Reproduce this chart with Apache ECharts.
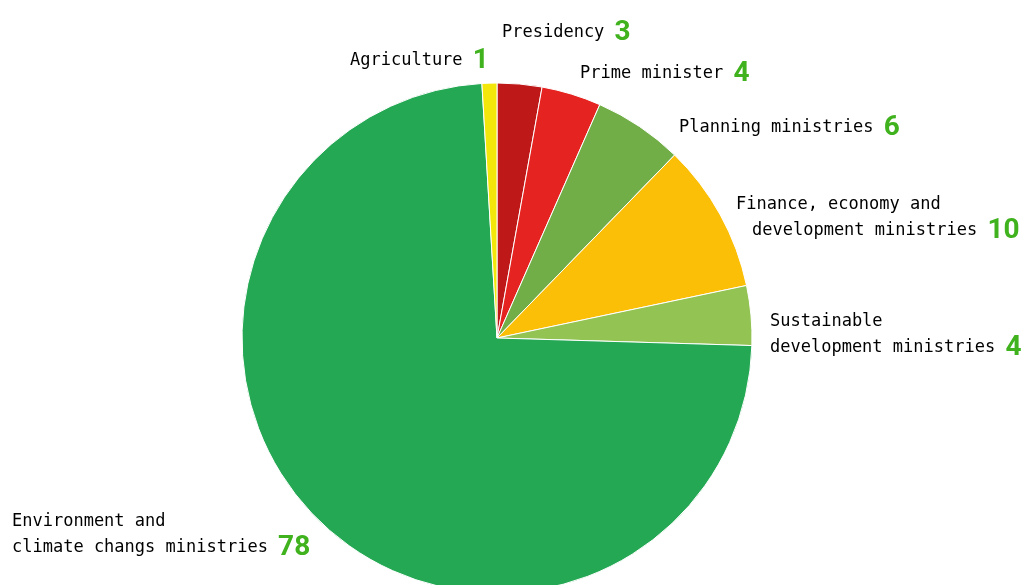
<!DOCTYPE html>
<html>
<head>
<meta charset="utf-8">
<script src="https://cdn.jsdelivr.net/npm/echarts@6/dist/echarts.min.js"></script>
<style>
  html, body { margin: 0; padding: 0; background: #fff; }
  #chart { width: 1022px; height: 585px; }
</style>
</head>
<body>
<div id="chart"></div>
<script>
// clockwise from 12 o'clock
const categories = [
  "Presidency",
  "Prime minister",
  "Planning ministries",
  "Finance, economy and\ndevelopment ministries",
  "Sustainable\ndevelopment ministries",
  "Environment and\nclimate changs ministries",
  "Agriculture"
];
const counts = [3, 4, 6, 10, 4, 78, 1];
const sliceColors = ["#be1818", "#e52421", "#72ae48", "#fcbf07", "#92c353", "#24a853", "#f3e60a"];

// where each label sits (left edge, vertical middle)
const labelSpots = {
  "Presidency": [502, 33],
  "Prime minister": [580, 74],
  "Planning ministries": [679, 128],
  "Finance, economy and\ndevelopment ministries": [736, 218],
  "Sustainable\ndevelopment ministries": [770, 335],
  "Environment and\nclimate changs ministries": [12, 535],
  "Agriculture": [350, 61]
};

const chart = echarts.init(document.getElementById("chart"));
chart.setOption({
  animation: false,
  series: [{
    type: "pie",
    center: [497, 338],
    radius: 255,
    startAngle: 90,
    clockwise: true,
    avoidLabelOverlap: false,
    itemStyle: { borderColor: "#fff", borderWidth: 1 },
    labelLine: { show: false },
    label: {
      show: true,
      position: "outside",
      formatter: function (p) {
        const lines = p.name.split("\n");
        let out = [];
        lines.forEach(function (l, i) {
          let s = "{t|" + l + "}";
          if (i === 1 && p.name.indexOf("Finance") === 0) s = "{i|}" + s;
          if (i === lines.length - 1) s += "{t| }{n|" + p.value + "}";
          out.push(s);
        });
        return out.join("\n");
      },
      rich: {
        t: { fontFamily: "DejaVu Sans Mono", fontSize: 17, color: "#000", lineHeight: 26 },
        n: { fontFamily: "Roboto", fontSize: 28, fontWeight: "bold", color: "#3fb21d", lineHeight: 26 },
        i: { width: 16 }
      }
    },
    labelLayout: function (params) {
      const spot = labelSpots[categories[params.dataIndex]];
      return { x: spot[0], y: spot[1], align: "left", verticalAlign: "middle" };
    },
    data: categories.map(function (c, i) {
      return { name: c, value: counts[i], itemStyle: { color: sliceColors[i] } };
    })
  }]
});
</script>
</body>
</html>
